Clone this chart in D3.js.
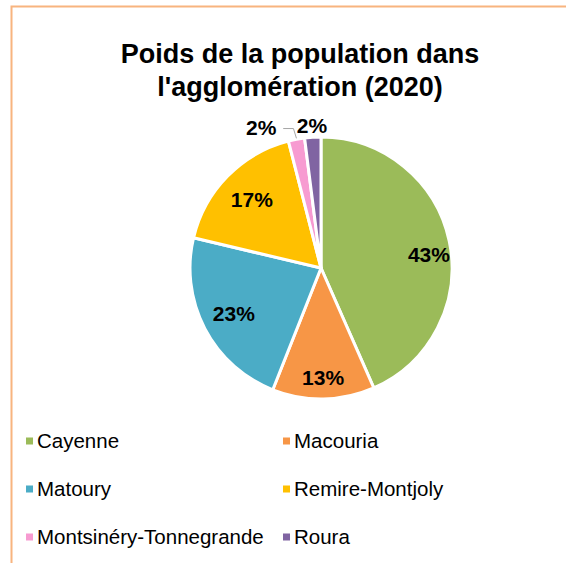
<!DOCTYPE html>
<html>
<head>
<meta charset="utf-8">
<title>Poids de la population</title>
<script src="https://cdn.jsdelivr.net/npm/d3@7"></script>
<style>
  body { margin: 0; background: #fff; }
  text { font-family: "Liberation Sans", Arial, sans-serif; }
</style>
</head>
<body>
<script>
// data
var communes = ["Cayenne", "Macouria", "Matoury", "Remire-Montjoly", "Montsinéry-Tonnegrande", "Roura"];
var parts = [43.4, 12.6, 22.7, 17.3, 2.0, 2.0];
var colors = ["#9bbb59", "#f79646", "#4bacc6", "#ffc000", "#f79bd1", "#8064a2"];
var titleLines = ["Poids de la population dans", "l'agglomération (2020)"];

var width = 566, height = 563;
var cx = 321, cy = 268, R = 131;

var svg = d3.select("body").append("svg")
    .attr("width", width).attr("height", height);

// orange frame (top and left visible)
svg.append("path")
    .attr("d", "M11.5," + height + " V6.5 H" + width)
    .attr("fill", "none").attr("stroke", "#f8b47f").attr("stroke-width", 2);

svg.selectAll(".title").data(titleLines).enter().append("text")
    .attr("class", "title")
    .attr("x", 300).attr("y", function(d, i) { return 63 + i * 33; })
    .attr("text-anchor", "middle")
    .attr("font-size", 27).attr("font-weight", "bold").attr("fill", "#000")
    .text(function(d) { return d; });

var data = communes.map(function(c, i) { return {name: c, value: parts[i], color: colors[i]}; });

var pie = d3.pie().sort(null).value(function(d) { return d.value; });
var arcs = pie(data);
var arc = d3.arc().innerRadius(0).outerRadius(R);
var outArc = d3.arc().innerRadius(R + 12).outerRadius(R + 12);
// label radius (fraction of R) and angle nudge (deg), like Excel "best fit"
var labelPos = [0.83, 0.84, 0.75, 0.74];
var labelTurn = [5, 0, 0, 0];

var g = svg.append("g").attr("transform", "translate(" + cx + "," + cy + ")");

g.selectAll("path.slice").data(arcs).enter().append("path")
    .attr("class", "slice")
    .attr("d", arc)
    .attr("fill", function(d) { return d.data.color; })
    .attr("stroke", "#fff").attr("stroke-width", 3).attr("stroke-linejoin", "round");

var fmt = function(d) { return Math.round(d.data.value) + "%"; };

// labels inside the big slices
g.selectAll("text.inlab").data(arcs.filter(function(d) { return d.data.value > 5; }))
  .enter().append("text")
    .attr("class", "inlab")
    .attr("transform", function(d, i) {
      var r = R * labelPos[i];
      var a = (d.startAngle + d.endAngle) / 2 + labelTurn[i] * Math.PI / 180;
      return "translate(" + [r * Math.sin(a), -r * Math.cos(a)] + ")";
    })
    .attr("text-anchor", "middle").attr("dy", "0.35em")
    .attr("font-size", 21).attr("font-weight", "bold").attr("fill", "#000")
    .text(fmt);

// small slices: outside labels
var small = arcs.filter(function(d) { return d.data.value <= 5; });
var shift = [-33, 0];
small.forEach(function(d, i) {
  var p = outArc.centroid(d);
  var lx = p[0] + shift[i], ly = p[1];
  g.append("text")
    .attr("x", lx).attr("y", ly)
    .attr("text-anchor", "middle").attr("dy", "0.35em")
    .attr("font-size", 21).attr("font-weight", "bold").attr("fill", "#000")
    .text(fmt(d));
  if (shift[i] !== 0) {
    var e = d3.arc().innerRadius(R).outerRadius(R).centroid(d);
    g.append("polyline")
      .attr("points", [[lx + 22, ly + 1], [e[0] - 3, ly + 1], [e[0], e[1] - 1]].map(function(q) { return q.join(","); }).join(" "))
      .attr("fill", "none").attr("stroke", "#a6a6a6").attr("stroke-width", 1);
  }
});

// legend
var legend = svg.selectAll(".leg").data(data).enter().append("g")
    .attr("class", "leg")
    .attr("transform", function(d, i) {
      return "translate(" + (i % 2 === 0 ? 26 : 283) + "," + (441 + Math.floor(i / 2) * 48) + ")";
    });
legend.append("rect").attr("x", 0).attr("y", -3.5).attr("width", 7).attr("height", 7)
    .attr("fill", function(d) { return d.color; });
legend.append("text").attr("x", 11).attr("dy", "0.35em")
    .attr("font-size", 20.5).attr("fill", "#000")
    .text(function(d) { return d.name; });
</script>
</body>
</html>
